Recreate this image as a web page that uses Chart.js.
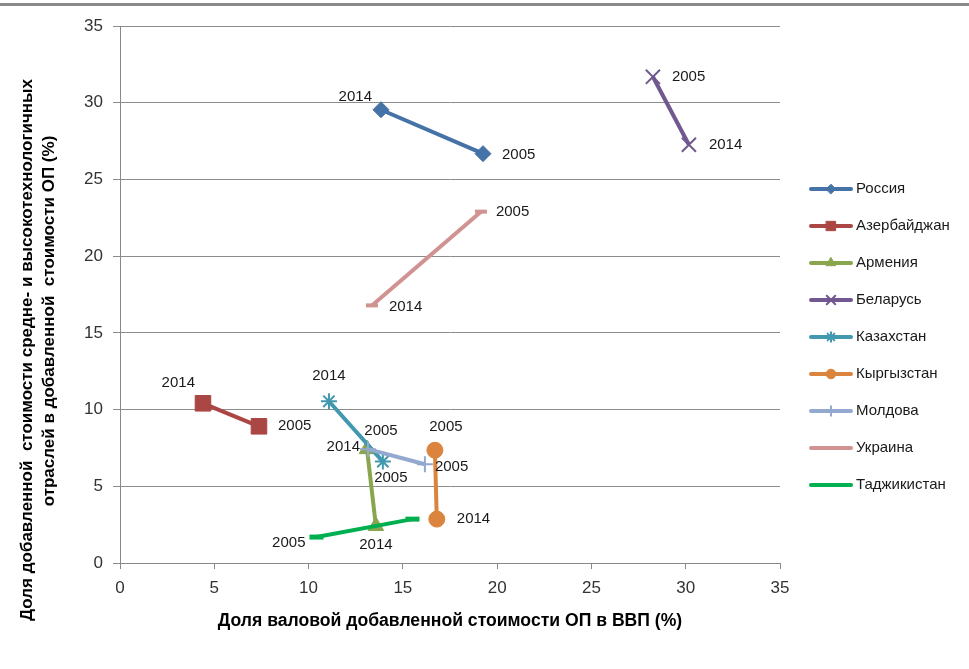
<!DOCTYPE html>
<html>
<head>
<meta charset="utf-8">
<script src="https://cdn.jsdelivr.net/npm/chart.js@4.4.1/dist/chart.umd.min.js"></script>
<style>
  body { margin: 0; background: #fff; }
  #wrap { width: 969px; height: 669px; position: relative; }
</style>
</head>
<body>
<div id="wrap"><canvas id="chart"></canvas></div>
<script>
// series names (legend order)
const countries = ['Россия', 'Азербайджан', 'Армения', 'Беларусь', 'Казахстан',
                   'Кыргызстан', 'Молдова', 'Украина', 'Таджикистан'];

// x = share of manufacturing GVA in GDP (%), y = share of mid/high-tech (%)
const russiaX = [13.84, 19.25],     russiaY = [29.54, 26.68];
const azerbaijanX = [4.40, 7.37],   azerbaijanY = [10.41, 8.91];
const armeniaX = [13.10, 13.57],    armeniaY = [7.42, 2.41];
const belarusX = [28.26, 30.17],    belarusY = [31.69, 27.26];
const kazakhstanX = [11.08, 13.94], kazakhstanY = [10.54, 6.61];
const kyrgyzstanX = [16.70, 16.80], kyrgyzstanY = [7.35, 2.86];
const moldovaX = [13.15, 16.17],    moldovaY = [7.42, 6.44];
const ukraineX = [13.36, 19.14],    ukraineY = [16.79, 22.90];
const tajikistanX = [10.42, 15.51], tajikistanY = [1.69, 2.86];

// year label for every point ('' = no label)
const russiaYears = ['2014', '2005'];
const azerbaijanYears = ['2014', '2005'];
const armeniaYears = ['2005', '2014'];
const belarusYears = ['2005', '2014'];
const kazakhstanYears = ['2014', '2005'];
const kyrgyzstanYears = ['2005', '2014'];
const moldovaYears = ['2014', '2005'];
const ukraineYears = ['2014', '2005'];
const tajikistanYears = ['2005', ''];

const xTicks = [0, 5, 10, 15, 20, 25, 30, 35];
const yTicks = [0, 5, 10, 15, 20, 25, 30, 35];

const xTitle = 'Доля валовой добавленной стоимости ОП в ВВП (%)';
const yTitle = ['Доля добавленной  стоимости средне- и высокотехнологичных',
                'отраслей в добавленной  стоимости ОП (%)'];

const allX = [russiaX, azerbaijanX, armeniaX, belarusX, kazakhstanX, kyrgyzstanX, moldovaX, ukraineX, tajikistanX];
const allY = [russiaY, azerbaijanY, armeniaY, belarusY, kazakhstanY, kyrgyzstanY, moldovaY, ukraineY, tajikistanY];
const allYears = [russiaYears, azerbaijanYears, armeniaYears, belarusYears, kazakhstanYears,
                  kyrgyzstanYears, moldovaYears, ukraineYears, tajikistanYears];

// look of each series
const colors = ['#4572A7', '#AA4643', '#89A54E', '#71588F', '#4198AF',
                '#DB843D', '#93A9CF', '#D19392', '#00B050'];
const markers = ['rectRot', 'rect', 'triangle', 'crossRot', 'star', 'circle', 'cross', 'line', 'line'];
const markerSize = [8, 11, 9, 10, 8, 8, 8, 6, 7];
const markerWidth = [1, 1, 1, 2, 2, 1, 2, 4, 5];

// where each year label sits relative to its point: [dx, dy, align]
const labelPlace = [
    [[-9, -13, 'right'], [19, 1, 'left']],
    [[-8, -20, 'right'], [19, 0, 'left']],
    [[14, -18, 'center'], [0, 19, 'center']],
    [[19, 0, 'left'], [20, 0, 'left']],
    [[0, -25, 'center'], [8, 16, 'center']],
    [[11, -23, 'center'], [20, 0, 'left']],
    [[-8, -2, 'right'], [10, 3, 'left']],
    [[17, 1, 'left'], [15, 0, 'left']],
    [[-11, 6, 'right'], [0, 0, 'left']]
];

const FONT = "'Liberation Sans', Arial, sans-serif";

const datasets = countries.map((name, i) => ({
    label: name,
    data: allX[i].map((x, j) => ({x: x, y: allY[i][j]})),
    showLine: true,
    borderColor: colors[i],
    backgroundColor: colors[i],
    borderWidth: 4,
    pointStyle: markers[i],
    pointRadius: markerSize[i],
    pointHoverRadius: markerSize[i],
    pointBorderWidth: markerWidth[i],
    pointBorderColor: colors[i],
    pointBackgroundColor: colors[i],
    order: -i
}));

const yearLabels = {
    id: 'yearLabels',
    afterDatasetsDraw(chart) {
        const ctx = chart.ctx;
        ctx.save();
        ctx.font = '15px ' + FONT;
        ctx.fillStyle = '#1a1a1a';
        ctx.textBaseline = 'middle';
        chart.data.datasets.forEach((ds, i) => {
            const meta = chart.getDatasetMeta(i);
            meta.data.forEach((pt, j) => {
                const txt = allYears[i][j];
                if (!txt) return;
                const p = labelPlace[i][j];
                ctx.textAlign = p[2];
                ctx.fillText(txt, pt.x + p[0], pt.y + p[1]);
            });
        });
        ctx.restore();
    }
};

const sideLegend = {
    id: 'sideLegend',
    afterDraw(chart) {
        const ctx = chart.ctx;
        ctx.save();
        countries.forEach((name, i) => {
            const y = 189 + i * 37;
            ctx.strokeStyle = colors[i];
            ctx.fillStyle = colors[i];
            ctx.lineWidth = 4;
            ctx.lineCap = 'round';
            ctx.beginPath();
            ctx.moveTo(811, y);
            ctx.lineTo(851, y);
            ctx.stroke();
            if (i < countries.length - 1) {
                ctx.lineWidth = markerWidth[i] > 2 ? 3 : markerWidth[i];
                Chart.helpers.drawPoint(ctx, {
                    pointStyle: markers[i],
                    radius: Math.max(4, markerSize[i] * 0.6),
                    rotation: 0,
                    borderWidth: ctx.lineWidth
                }, 831, y);
            }
            ctx.fillStyle = '#1a1a1a';
            ctx.font = '15px ' + FONT;
            ctx.textAlign = 'left';
            ctx.textBaseline = 'middle';
            ctx.fillText(name, 856, y);
        });
        ctx.restore();
    }
};

const frame = {
    id: 'frame',
    afterDraw(chart) {
        const ctx = chart.ctx;
        ctx.save();
        // rule under the cut-off heading
        ctx.fillStyle = '#8a8a8a';
        ctx.fillRect(0, 3, 969, 3);
        // two-line y axis title
        ctx.fillStyle = '#000';
        ctx.font = 'bold 17px ' + FONT;
        ctx.textAlign = 'center';
        ctx.textBaseline = 'middle';
        ctx.translate(27, 350);
        ctx.rotate(-Math.PI / 2);
        ctx.fillText(yTitle[0], 0, 0);
        ctx.fillText(yTitle[1], 29, 22);
        ctx.restore();
    }
};

new Chart(document.getElementById('chart'), {
    type: 'scatter',
    data: { datasets: datasets },
    options: {
        responsive: true,
        maintainAspectRatio: false,
        animation: false,
        layout: { padding: { left: 0, right: 189, top: 26, bottom: 0 } },
        plugins: {
            legend: { display: false },
            tooltip: { enabled: false }
        },
        scales: {
            x: {
                type: 'linear',
                min: xTicks[0],
                max: xTicks[xTicks.length - 1],
                afterFit(scale) { scale.height = 106; },
                afterBuildTicks(scale) { scale.ticks = xTicks.map(v => ({value: v})); },
                ticks: { font: { size: 17, family: FONT }, color: '#333', padding: 9 },
                grid: { drawOnChartArea: false, drawTicks: true, tickLength: 6, color: '#888' },
                border: { color: '#888', width: 1 },
                title: {
                    display: true,
                    text: xTitle,
                    color: '#000',
                    font: { size: 17.6, weight: 'bold', family: FONT },
                    padding: { top: 0, bottom: 37 }
                }
            },
            y: {
                type: 'linear',
                min: yTicks[0],
                max: yTicks[yTicks.length - 1],
                afterFit(scale) { scale.width = 120; },
                afterBuildTicks(scale) { scale.ticks = yTicks.map(v => ({value: v})); },
                ticks: { font: { size: 17, family: FONT }, color: '#333', padding: 10 },
                grid: { drawTicks: true, tickLength: 7, color: '#8c8c8c' },
                border: { color: '#888', width: 1 }
            }
        }
    },
    plugins: [yearLabels, sideLegend, frame]
});
</script>
</body>
</html>
